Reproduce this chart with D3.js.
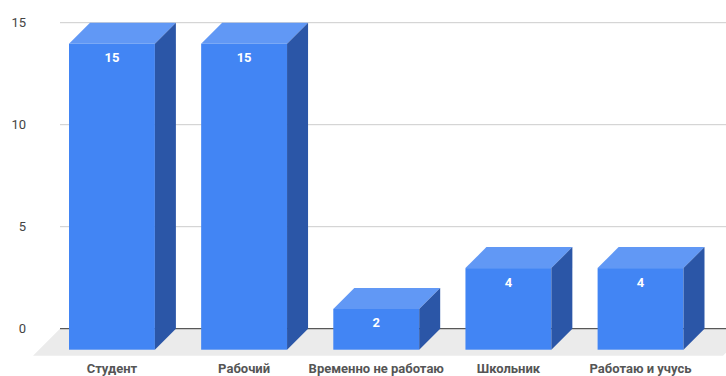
<!DOCTYPE html>
<html>
<head>
<meta charset="utf-8">
<script src="https://cdn.jsdelivr.net/npm/d3@7"></script>
<style>
  body { margin: 0; background: #fff; }
  svg { display: block; font-family: Roboto, "Noto Sans", sans-serif; }
</style>
</head>
<body>
<div id="chart"></div>
<script>
const categories = ["Студент", "Рабочий", "Временно не работаю", "Школьник", "Работаю и учусь"];
const values = [15, 15, 2, 4, 4];
const yTicks = [0, 5, 10, 15];

const WIDTH = 726;
const HEIGHT = 376;
const DEPTH = 21;

const svg = d3.select("#chart")
  .append("svg")
  .attr("width", WIDTH)
  .attr("height", HEIGHT);

/** Scales: band positions refer to the front face of each bar */
const x = d3.scaleBand().domain(categories).range([69, 683.5]).paddingInner(0.35).paddingOuter(0);
const y = d3.scaleLinear().domain([0, 15]).range([328.7, 22.7]);
const bw = x.bandwidth();

// floor
const y0 = y(0);
svg.append("polygon")
  .attr("points", [[60, y0], [750, y0], [723, y0 + 27], [33, y0 + 27]].join(" "))
  .attr("fill", "#ebebeb");

// gridlines
svg.append("g")
  .selectAll("line")
  .data(yTicks.filter((t) => t !== 0))
  .enter()
  .append("line")
  .attr("x1", 60)
  .attr("x2", WIDTH)
  .attr("y1", (d) => y(d))
  .attr("y2", (d) => y(d))
  .attr("stroke", "#cccccc")
  .attr("stroke-width", 1);

svg.append("line")
  .attr("x1", 60)
  .attr("x2", WIDTH)
  .attr("y1", y0)
  .attr("y2", y0)
  .attr("stroke", "#333333")
  .attr("stroke-width", 1);

// y axis labels
svg.append("g")
  .selectAll("text")
  .data(yTicks)
  .enter()
  .append("text")
  .attr("x", 26)
  .attr("y", (d) => y(d))
  .attr("dy", "0.35em")
  .attr("text-anchor", "end")
  .attr("font-size", 13)
  .attr("fill", "#444")
  .text((d) => d);

// bars
const bars = svg.append("g")
  .selectAll("g")
  .data(categories.map((c, i) => ({ cat: c, value: values[i] })))
  .enter()
  .append("g");

bars.append("rect")
  .attr("x", (d) => x(d.cat))
  .attr("y", (d) => y(d.value) + DEPTH)
  .attr("width", bw)
  .attr("height", (d) => y0 - y(d.value))
  .attr("fill", "#4285f4");

bars.append("polygon")
  .attr("points", (d) => {
    const bx = x(d.cat), yv = y(d.value);
    return [[bx, yv + DEPTH], [bx + DEPTH, yv], [bx + bw + DEPTH, yv], [bx + bw, yv + DEPTH]].join(" ");
  })
  .attr("fill", "#6198f5");

bars.append("polygon")
  .attr("points", (d) => {
    const bx = x(d.cat), yv = y(d.value);
    return [[bx + bw, yv + DEPTH], [bx + bw + DEPTH, yv], [bx + bw + DEPTH, y0], [bx + bw, y0 + DEPTH]].join(" ");
  })
  .attr("fill", "#2b56a7");

// value labels
bars.append("text")
  .attr("x", (d) => x(d.cat) + bw / 2)
  .attr("y", (d) => y(d.value) + DEPTH + 14)
  .attr("dy", "0.35em")
  .attr("text-anchor", "middle")
  .attr("font-size", 13)
  .attr("font-weight", "bold")
  .attr("fill", "#fff")
  .text((d) => d.value);

// category labels (sit at the bottom edge, as in the original)
svg.append("g")
  .selectAll("text")
  .data(categories)
  .enter()
  .append("text")
  .attr("x", (d) => x(d) + bw / 2)
  .attr("y", 373)
  .attr("text-anchor", "middle")
  .attr("font-size", 13)
  .attr("font-weight", "bold")
  .attr("fill", "#555")
  .text((d) => d);
</script>
</body>
</html>
